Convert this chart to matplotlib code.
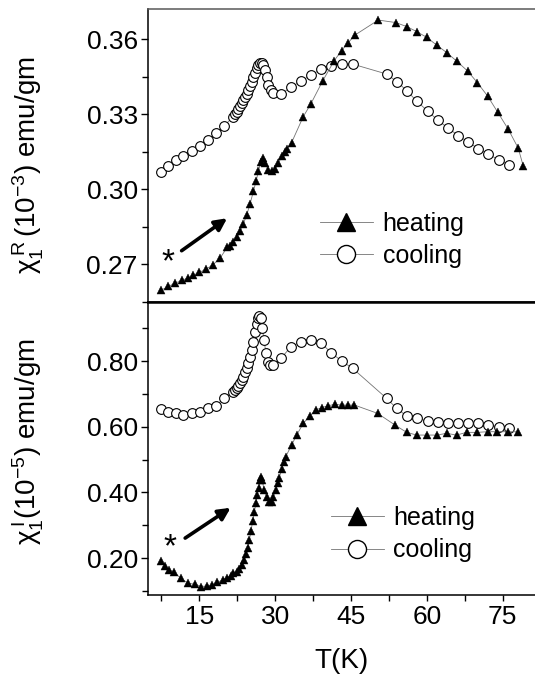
import numpy as np
import matplotlib
matplotlib.use('Agg')
import matplotlib.pyplot as plt
from matplotlib.lines import Line2D
from matplotlib.ticker import MultipleLocator

plt.rcParams['font.family'] = ['Liberation Sans', 'DejaVu Sans']
plt.rcParams['mathtext.fontset'] = 'custom'
plt.rcParams['mathtext.rm'] = 'Liberation Sans'
plt.rcParams['mathtext.it'] = 'Liberation Sans'

## ---------------------------------------------------------------------------
## data

# real part, heating
T_re_heat = [7.36, 8.88, 10.19, 11.51, 12.83, 13.82, 15.0, 16.32, 17.64, 19.09,
             20.54, 21.07, 21.7, 22.39, 23.05, 23.71, 24.37, 25.03, 25.69, 26.21,
             26.68, 27.14, 27.54, 27.99, 28.65, 29.31, 29.97, 30.63, 31.29, 31.95,
             32.28, 33.26, 35.57, 37.02, 39.39, 41.70, 43.15, 44.47, 45.79, 50.40,
             53.83, 56.01, 57.98, 59.96, 61.94, 63.92, 65.89, 68.07, 69.98, 72.02,
             74.0, 76.11, 78.09, 79.07]
chi_re_heat = [0.2595, 0.2611, 0.2624, 0.2635, 0.2645, 0.2656, 0.2667, 0.2680, 0.2697, 0.2724,
               0.2768, 0.2773, 0.2790, 0.2808, 0.2831, 0.2861, 0.2897, 0.2941, 0.2991, 0.3031,
               0.3071, 0.3107, 0.3124, 0.3104, 0.3077, 0.3071, 0.3080, 0.3104, 0.3131, 0.3151,
               0.3160, 0.3187, 0.3291, 0.3340, 0.3433, 0.3515, 0.3555, 0.3587, 0.3617, 0.3677,
               0.3667, 0.3651, 0.3631, 0.3608, 0.3577, 0.3547, 0.3513, 0.3473, 0.3427, 0.3373,
               0.3309, 0.3240, 0.3164, 0.3093]

# real part, cooling
T_re_cool = [7.36, 8.88, 10.39, 11.84, 13.49, 15.14, 16.65, 18.30, 19.88, 21.60,
             22.06, 22.39, 22.72, 23.05, 23.38, 23.71, 24.04, 24.37, 24.69, 25.02,
             25.35, 25.68, 26.01, 26.34, 26.67, 27.0, 27.33, 27.66, 27.99, 28.32,
             28.65, 29.11, 29.51, 31.15, 33.13, 35.11, 37.09, 39.06, 41.04, 43.15,
             45.46, 52.05, 54.03, 56.01, 57.98, 60.16, 62.14, 64.24, 66.22, 68.20,
             70.18, 72.15, 74.26, 76.31]
chi_re_cool = [0.3068, 0.3093, 0.3115, 0.3135, 0.3155, 0.3175, 0.3197, 0.3224, 0.3253, 0.3288,
               0.3300, 0.3311, 0.3321, 0.3333, 0.3344, 0.3357, 0.3368, 0.3381, 0.3397, 0.3413,
               0.3431, 0.3448, 0.3467, 0.3484, 0.3497, 0.3507, 0.3507, 0.3497, 0.3477, 0.3448,
               0.3417, 0.3397, 0.3384, 0.3381, 0.3408, 0.3433, 0.3457, 0.3480, 0.3495, 0.3501,
               0.3500, 0.3461, 0.3431, 0.3395, 0.3353, 0.3313, 0.3277, 0.3244, 0.3215, 0.3188,
               0.3163, 0.3141, 0.3117, 0.3097]

# imaginary part, heating
T_im_heat = [7.36, 8.22, 9.07, 10.06, 11.38, 12.83, 14.15, 15.34, 16.46, 17.45,
             18.56, 19.62, 20.54, 21.20, 21.73, 22.39, 22.92, 23.38, 23.84, 24.23,
             24.56, 24.89, 25.22, 25.55, 25.88, 26.21, 26.47, 26.74, 27.00, 27.20,
             27.46, 27.79, 28.32, 28.85, 29.31, 29.64, 30.17, 30.50, 30.82, 31.29,
             31.75, 32.08, 33.26, 34.25, 35.57, 36.89, 38.01, 39.20, 40.51, 41.83,
             43.15, 44.47, 45.66, 50.27, 53.70, 56.01, 57.98, 59.96, 61.94, 63.92,
             65.89, 67.87, 69.98, 72.02, 73.93, 75.98, 77.96]
chi_im_heat = [0.1922, 0.1770, 0.1638, 0.1567, 0.1384, 0.1232, 0.1212, 0.1131, 0.1161, 0.1181,
               0.1263, 0.1334, 0.1405, 0.1465, 0.1537, 0.1587, 0.1668, 0.1790, 0.1942, 0.2115,
               0.2318, 0.2551, 0.2825, 0.3130, 0.3414, 0.3667, 0.3921, 0.4144, 0.4378, 0.4479,
               0.4378, 0.4073, 0.3870, 0.3718, 0.3718, 0.3870, 0.4073, 0.4276, 0.4449, 0.4712,
               0.4936, 0.5088, 0.5443, 0.5747, 0.6103, 0.6336, 0.6508, 0.6579, 0.6640, 0.6681,
               0.6661, 0.6661, 0.6661, 0.6407, 0.6052, 0.5829, 0.5747, 0.5747, 0.5747, 0.5798,
               0.5747, 0.5829, 0.5829, 0.5849, 0.5849, 0.5849, 0.5849]

# imaginary part, cooling
T_im_cool = [7.36, 8.88, 10.39, 11.84, 13.49, 15.14, 16.65, 18.30, 19.88, 21.60,
             22.06, 22.39, 22.72, 23.05, 23.38, 23.71, 24.04, 24.37, 24.69, 25.02,
             25.35, 25.68, 26.01, 26.34, 26.54, 26.87, 27.20, 27.46, 27.79, 28.19,
             28.52, 28.98, 29.51, 31.15, 33.13, 35.11, 37.09, 39.06, 41.04, 43.15,
             45.33, 52.05, 54.03, 56.01, 57.98, 60.16, 62.14, 64.11, 66.22, 68.20,
             70.18, 72.15, 74.26, 76.31]
chi_im_cool = [0.6529, 0.6458, 0.6407, 0.6356, 0.6407, 0.6458, 0.6559, 0.6640, 0.6864, 0.7066,
               0.7117, 0.7168, 0.7239, 0.7320, 0.7422, 0.7523, 0.7655, 0.7777, 0.7929, 0.8132,
               0.8335, 0.8589, 0.8873, 0.9116, 0.9319, 0.9380, 0.9299, 0.8994, 0.8639, 0.8233,
               0.7980, 0.7878, 0.7878, 0.8081, 0.8436, 0.8589, 0.8639, 0.8558, 0.8254, 0.8000,
               0.7777, 0.6864, 0.6559, 0.6326, 0.6255, 0.6174, 0.6133, 0.6103, 0.6103, 0.6103,
               0.6103, 0.6052, 0.6001, 0.5971]

## ---------------------------------------------------------------------------
## figure

W, H = 535, 677
fig = plt.figure(figsize=(W/100., H/100.), dpi=100)

left = 147.5/W
width = 1.0 - left
ax1 = fig.add_axes([left, 1 - 301.7/H, width, (301.7 - 9.3)/H])
ax2 = fig.add_axes([left, 1 - 595.0/H, width, (595.0 - 301.7)/H])

line_kw = dict(color='0.45', lw=0.6)

def panel(ax, Th, yh, Tc, yc):
    ax.plot(Tc, yc, marker='o', ms=7, mfc='white', mec='k', mew=0.8, **line_kw)
    ax.plot(Th, yh, marker='^', ms=6, mfc='k', mec='k', mew=0.3, **line_kw)
    ax.set_xlim(4.75, 81.4)
    ax.spines['right'].set_visible(False)
    for s in ['left', 'bottom', 'top']:
        ax.spines[s].set_linewidth(1.1)
    ax.xaxis.set_major_locator(MultipleLocator(15))
    ax.xaxis.set_minor_locator(MultipleLocator(7.5))
    ax.tick_params(axis='y', which='major', direction='out', length=5, width=1, labelsize=19, pad=2)
    ax.tick_params(axis='y', which='minor', direction='out', length=4, width=1)

panel(ax1, T_re_heat, chi_re_heat, T_re_cool, chi_re_cool)
panel(ax2, T_im_heat, chi_im_heat, T_im_cool, chi_im_cool)

ax1.set_ylim(0.255, 0.372)
ax1.yaxis.set_major_locator(MultipleLocator(0.03))
ax1.yaxis.set_minor_locator(MultipleLocator(0.015))
ax1.yaxis.set_major_formatter(plt.FormatStrFormatter('%.2f'))
ax1.tick_params(axis='x', which='both', bottom=False, labelbottom=False)
ax1.spines['top'].set_color('0.35')
ax1.spines['bottom'].set_linewidth(1.8)

ax2.set_ylim(0.088, 0.9805)
ax2.yaxis.set_major_locator(MultipleLocator(0.2))
ax2.yaxis.set_minor_locator(MultipleLocator(0.1))
ax2.yaxis.set_major_formatter(plt.FormatStrFormatter('%.2f'))
ax2.tick_params(axis='x', which='both', direction='out', length=4, width=1, labelsize=19, pad=3)
ax2.spines['top'].set_linewidth(1.8)
ax2.set_xticks([15, 30, 45, 60, 75])
ax2.set_xlabel('T(K)', fontsize=20, labelpad=14)

fig.text(28/W, 1 - 165/H, r'$\chi_1^{\,R}\,$(10$^{-3}$) emu/gm', rotation=90,
         ha='center', va='center', fontsize=20)
fig.text(28/W, 1 - 442/H, r'$\chi_1^{\,I}$(10$^{-5}$) emu/gm', rotation=90,
         ha='center', va='center', fontsize=20)

# legends
def legend(ax, x0, ytop):
    handles = [Line2D([], [], marker='^', ms=13, mfc='k', mec='k', **line_kw),
               Line2D([], [], marker='o', ms=13, mfc='white', mec='k', mew=1, **line_kw)]
    ax.legend(handles, ['heating', 'cooling'], loc='upper left', frameon=False,
              bbox_to_anchor=(x0/W, 1 - ytop/H), bbox_transform=fig.transFigure,
              fontsize=18, handlelength=2.1, handletextpad=0.4, labelspacing=0.33,
              borderpad=0, borderaxespad=0)

legend(ax1, 320, 212)
legend(ax2, 331, 506)

# arrows and stars
arrow = dict(arrowstyle='-|>', lw=2.6, color='k', mutation_scale=18, shrinkA=0, shrinkB=0)
ax1.annotate('', xy=(20.5, 0.2884), xytext=(11.5, 0.2754), arrowprops=arrow)
ax1.text(8.9, 0.2705, '*', fontsize=24, ha='center', va='center')
ax2.annotate('', xy=(21.2, 0.3534), xytext=(12.2, 0.2612), arrowprops=arrow)
ax2.text(9.2, 0.232, '*', fontsize=24, ha='center', va='center')

fig.savefig('out.png', dpi=100)
